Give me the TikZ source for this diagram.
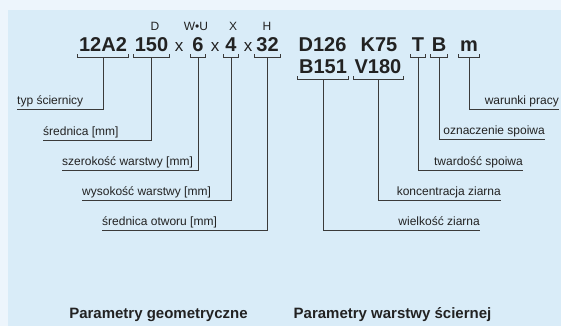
\documentclass[tikz,border=0pt]{standalone}
\usepackage{fontspec}
\setmainfont{Liberation Sans}
\usepackage{xcolor}
\usepackage{tikz}
\definecolor{outerbg}{HTML}{EDF5FC}
\definecolor{panel}{HTML}{D9ECF8}
\definecolor{ink}{HTML}{222222}
\definecolor{wire}{HTML}{3A3A3A}
\tikzset{
    code/.style={anchor=base, inner xsep=1.5pt, inner ysep=5pt, text depth=0pt, minimum width=15pt, text=ink, font=\fontsize{20}{24}\selectfont\bfseries},
    times/.style={anchor=base, inner sep=0pt, text=ink, font=\fontsize{17}{20}\selectfont},
    sym/.style={anchor=base, inner sep=0pt, text=ink, font=\fontsize{12}{14}\selectfont},
    lab/.style={inner xsep=0pt, inner ysep=1pt, text height=9pt, text depth=3pt, text=ink, font=\fontsize{12}{14}\selectfont},
    title/.style={anchor=base, inner sep=0pt, text=ink, font=\fontsize{15}{18}\selectfont\bfseries},
    brace/.style={draw=wire, line width=0.9pt},
    wire/.style={draw=wire, line width=0.9pt}
}
\newcommand{\brk}[1]{\draw[brace] (#1.south west) ++(0,-3) -- (#1.south west) -- (#1.south east) -- ++(0,-3);}
\begin{document}
\begin{tikzpicture}[x=1pt, y=-1pt]
        \fill[outerbg] (0, 0) rectangle (561, 326);
        \fill[panel] (8, 10) rectangle (561, 326);

        \node[code] (G1) at (103, 52) {12A2};
        \node[code] (G2) at (151.5, 52) {150};
        \node[code] (G3) at (198, 52) {6};
        \node[code] (G4) at (231, 52) {4};
        \node[code] (G5) at (267.5, 52) {32};
        \node[times] (x1) at (179, 52) {x};
        \node[times] (x2) at (215, 52) {x};
        \node[times] (x3) at (248, 52) {x};
        \node[sym] (sD) at (155, 31) {D};
        \node[sym] (sW) at (196, 31) {W•U};
        \node[sym] (sX) at (233, 31) {X};
        \node[sym] (sH) at (267, 31) {H};

        \node[code] (D126) at (322.5, 52) {D126};
        \node[code] (K75) at (379, 52) {K75};
        \node[code] (S1) at (323, 74) {B151};
        \node[code] (S2) at (378, 74) {V180};
        \node[code] (S3) at (418, 52) {T};
        \node[code] (S4) at (439, 52) {B};
        \node[code] (S5) at (469, 52) {m};

        \node[lab, anchor=south west] (L1) at (17, 109) {typ ściernicy};
        \node[lab, anchor=south west] (L2) at (43, 140) {średnica [mm]};
        \node[lab, anchor=south west] (L3) at (62, 170) {szerokość warstwy [mm]};
        \node[lab, anchor=south west] (L4) at (82, 200) {wysokość warstwy [mm]};
        \node[lab, anchor=south west] (L5) at (102, 230) {średnica otworu [mm]};

        \node[lab, anchor=south east] (R5) at (559, 109) {warunki pracy};
        \node[lab, anchor=south east] (R4) at (545, 139) {oznaczenie spoiwa};
        \node[lab, anchor=south east] (R3) at (523, 170) {twardość spoiwa};
        \node[lab, anchor=south east] (R2) at (501, 200) {koncentracja ziarna};
        \node[lab, anchor=south east] (R1) at (480, 230) {wielkość ziarna};

        \node[title] (T1) at (158.5, 318) {Parametry geometryczne};
        \node[title] (T2) at (392.5, 318) {Parametry warstwy ściernej};

        \foreach \n in {G1, G2, G3, G4, G5, S1, S2, S3, S4, S5}
            {\brk{\n}}

        \draw[wire] (G1.south) |- (L1.south west);
        \draw[wire] (G2.south) |- (L2.south west);
        \draw[wire] (G3.south) |- (L3.south west);
        \draw[wire] (G4.south) |- (L4.south west);
        \draw[wire] (G5.south) |- (L5.south west);
        \draw[wire] (S1.south) |- (R1.south east);
        \draw[wire] (S2.south) |- (R2.south east);
        \draw[wire] (S3.south) |- (R3.south east);
        \draw[wire] (S4.south) |- (R4.south east);
        \draw[wire] (S5.south) |- (R5.south east);
    \end{tikzpicture}
\end{document}
